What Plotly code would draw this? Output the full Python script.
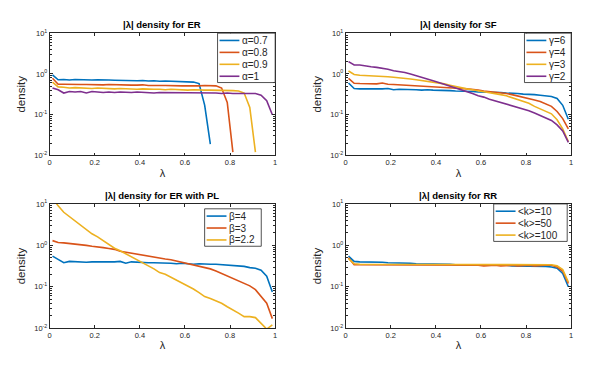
import plotly.graph_objects as go

# ---------------- data ----------------
x_bins = [round(0.0125 + 0.025 * i, 4) for i in range(40)]

er_labels = ["α=0.7", "α=0.8", "α=0.9", "α=1"]
er_a07 = [0.95, 0.72, 0.73, 0.71, 0.73, 0.72, 0.72, 0.71, 0.72, 0.70, 0.71, 0.70, 0.69, 0.70, 0.69,
          0.68, 0.69, 0.67, 0.68, 0.66, 0.67, 0.66, 0.65, 0.65, 0.64, 0.63, 0.58, 0.17, 0.019]
er_a08 = [0.78, 0.56, 0.56, 0.55, 0.56, 0.55, 0.55, 0.54, 0.55, 0.54, 0.55, 0.54, 0.53, 0.54, 0.53,
          0.53, 0.54, 0.52, 0.53, 0.52, 0.52, 0.51, 0.52, 0.51, 0.51, 0.50, 0.51, 0.52, 0.51, 0.51,
          0.45, 0.20, 0.012]
er_a09 = [0.63, 0.48, 0.47, 0.45, 0.46, 0.45, 0.45, 0.44, 0.45, 0.44, 0.44, 0.43, 0.44, 0.43, 0.43,
          0.42, 0.43, 0.42, 0.42, 0.42, 0.41, 0.42, 0.41, 0.41, 0.40, 0.41, 0.40, 0.40, 0.40, 0.40,
          0.39, 0.39, 0.39, 0.38, 0.34, 0.15, 0.012]
er_a10 = [0.45, 0.41, 0.34, 0.37, 0.36, 0.37, 0.34, 0.37, 0.36, 0.35, 0.36, 0.35, 0.36, 0.35, 0.35,
          0.36, 0.35, 0.35, 0.34, 0.35, 0.35, 0.34, 0.35, 0.34, 0.34, 0.35, 0.34, 0.34, 0.34, 0.34,
          0.33, 0.34, 0.33, 0.33, 0.33, 0.33, 0.33, 0.30, 0.22, 0.10]

sf_labels = ["γ=6", "γ=4", "γ=3", "γ=2"]
sf_g6 = [0.60, 0.44, 0.43, 0.43, 0.42, 0.42, 0.43, 0.44, 0.41, 0.42, 0.42, 0.41, 0.41, 0.40, 0.41,
         0.40, 0.40, 0.39, 0.39, 0.38, 0.38, 0.37, 0.37, 0.36, 0.36, 0.35, 0.35, 0.35, 0.34, 0.34,
         0.33, 0.32, 0.32, 0.31, 0.30, 0.29, 0.28, 0.25, 0.17, 0.077]
sf_g4 = [0.78, 0.59, 0.58, 0.57, 0.56, 0.57, 0.60, 0.56, 0.55, 0.54, 0.54, 0.53, 0.52, 0.51, 0.51,
         0.50, 0.49, 0.48, 0.47, 0.45, 0.44, 0.43, 0.42, 0.40, 0.38, 0.37, 0.35, 0.34, 0.33, 0.31,
         0.29, 0.27, 0.25, 0.23, 0.21, 0.18, 0.16, 0.12, 0.08, 0.045]
sf_g3 = [1.18, 0.97, 0.93, 0.92, 0.91, 0.89, 0.87, 0.85, 0.83, 0.81, 0.78, 0.75, 0.72, 0.69, 0.66,
         0.63, 0.60, 0.57, 0.53, 0.49, 0.46, 0.43, 0.41, 0.39, 0.37, 0.35, 0.33, 0.31, 0.29, 0.26,
         0.23, 0.21, 0.19, 0.16, 0.14, 0.12, 0.105, 0.075, 0.045, 0.022]
sf_g2 = [2.00, 1.65, 1.65, 1.55, 1.50, 1.45, 1.40, 1.30, 1.20, 1.15, 1.08, 1.00, 0.90, 0.82, 0.75,
         0.68, 0.62, 0.56, 0.50, 0.44, 0.40, 0.36, 0.33, 0.29, 0.27, 0.24, 0.22, 0.20, 0.18, 0.165,
         0.15, 0.14, 0.125, 0.11, 0.095, 0.085, 0.072, 0.056, 0.04, 0.021]

pl_labels = ["β=4", "β=3", "β=2.2"]
pl_b4 = [0.55, 0.45, 0.38, 0.41, 0.40, 0.40, 0.39, 0.40, 0.40, 0.39, 0.40, 0.40, 0.41, 0.37, 0.40,
         0.39, 0.38, 0.38, 0.38, 0.38, 0.37, 0.37, 0.36, 0.37, 0.36, 0.35, 0.36, 0.35, 0.35, 0.35,
         0.34, 0.34, 0.33, 0.32, 0.31, 0.29, 0.28, 0.25, 0.18, 0.075]
pl_b3 = [1.30, 1.17, 1.15, 1.12, 1.08, 1.05, 1.00, 0.95, 0.93, 0.88, 0.84, 0.80, 0.72, 0.68, 0.64,
         0.60, 0.57, 0.54, 0.51, 0.49, 0.47, 0.45, 0.42, 0.39, 0.37, 0.34, 0.32, 0.29, 0.27, 0.24,
         0.21, 0.18, 0.155, 0.135, 0.12, 0.105, 0.085, 0.06, 0.04, 0.017]
pl_b22 = [14.0, 9.0, 6.3, 5.0, 3.9, 3.0, 2.4, 1.9, 1.6, 1.3, 1.05, 0.85, 0.74, 0.62, 0.52,
          0.44, 0.38, 0.32, 0.27, 0.22, 0.20, 0.17, 0.145, 0.12, 0.10, 0.088, 0.072, 0.058, 0.052, 0.045,
          0.040, 0.033, 0.028, 0.023, 0.019, 0.019, 0.018, 0.013, 0.0095, 0.012]

rr_labels = ["<k>=10", "<k>=50", "<k>=100"]
rr_k10 = [0.55, 0.41, 0.40, 0.40, 0.40, 0.39, 0.39, 0.38, 0.38, 0.37, 0.37, 0.37, 0.36, 0.36, 0.36,
          0.35, 0.35, 0.35, 0.35, 0.34, 0.34, 0.34, 0.34, 0.34, 0.33, 0.33, 0.33, 0.33, 0.33, 0.32,
          0.32, 0.32, 0.32, 0.32, 0.31, 0.31, 0.30, 0.28, 0.21, 0.10]
rr_k50 = [0.50, 0.34, 0.34, 0.34, 0.34, 0.33, 0.34, 0.34, 0.33, 0.34, 0.34, 0.33, 0.34, 0.34, 0.33,
          0.34, 0.33, 0.34, 0.33, 0.33, 0.34, 0.33, 0.33, 0.33, 0.32, 0.33, 0.33, 0.32, 0.33, 0.33,
          0.32, 0.33, 0.33, 0.32, 0.33, 0.33, 0.33, 0.30, 0.24, 0.12]
rr_k100 = [0.48, 0.36, 0.35, 0.35, 0.35, 0.35, 0.35, 0.35, 0.35, 0.35, 0.35, 0.34, 0.35, 0.35, 0.34,
           0.35, 0.34, 0.34, 0.34, 0.34, 0.34, 0.34, 0.34, 0.34, 0.34, 0.34, 0.34, 0.34, 0.34, 0.34,
           0.34, 0.34, 0.34, 0.34, 0.34, 0.34, 0.34, 0.32, 0.26, 0.13]

titles = ["|λ| density for ER", "|λ| density for SF", "|λ| density for ER with PL", "|λ| density for RR"]
x_ticks = [0, 0.2, 0.4, 0.6, 0.8, 1]
x_ticktext = ["0", "0.2", "0.4", "0.6", "0.8", "1"]
y_ticks = [0.01, 0.1, 1, 10]
y_ticktext = ["10<sup>-2</sup>", "10<sup>-1</sup>", "10<sup>0</sup>", "10<sup>1</sup>"]
y_minor = [m * d for d in (0.01, 0.1, 1) for m in range(2, 10)]

colors = ["#0072BD", "#D95319", "#EDB120", "#7E2F8E"]
FONT = "Liberation Sans, Arial, Helvetica, sans-serif"
AXC = "#262626"

W, H = 598, 371
# axes boxes in pixels: (left, right, top, bottom)
boxes = [(48, 275, 28, 154), (346, 573, 28, 154), (48, 275, 204, 332), (346, 573, 204, 332)]
# legend boxes in pixels: (left, right, top)
legend_boxes = [(217, 275, 28), (526, 573, 28), (204, 261, 209), (495, 569, 204)]

panels = [
    (er_labels, [er_a07, er_a08, er_a09, er_a10]),
    (sf_labels, [sf_g6, sf_g4, sf_g3, sf_g2]),
    (pl_labels, [pl_b4, pl_b3, pl_b22]),
    (rr_labels, [rr_k10, rr_k50, rr_k100]),
]


def px(xp):
    return xp / W


def py(yp):
    return 1 - yp / H


fig = go.Figure()
layout = {}
annotations = []
shapes = []

for p, (labels, series) in enumerate(panels):
    xa = "x" if p == 0 else f"x{p+1}"
    ya = "y" if p == 0 else f"y{p+1}"
    for i, (lab, vals) in enumerate(zip(labels, series)):
        fig.add_trace(go.Scatter(
            x=x_bins[:len(vals)], y=vals, mode="lines", name=lab,
            line=dict(color=colors[i], width=1.6),
            xaxis=xa, yaxis=ya, showlegend=False,
        ))
    l, r, t, b = boxes[p]
    xkey = "xaxis" if p == 0 else f"xaxis{p+1}"
    ykey = "yaxis" if p == 0 else f"yaxis{p+1}"
    layout[xkey] = dict(
        domain=[px(l), px(r)], anchor=ya, range=[0, 1], tickvals=x_ticks, ticktext=x_ticktext,
        ticks="inside", ticklen=3, tickcolor=AXC, showline=True, linecolor=AXC, linewidth=0.8,
        mirror="allticks", showgrid=False, zeroline=False,
        tickfont=dict(size=7.5, color=AXC, family=FONT),
        title=dict(text="λ", font=dict(size=11, color=AXC, family=FONT), standoff=2),
    )
    layout[ykey] = dict(
        domain=[py(b), py(t)], anchor=xa, type="log", range=[-2, 1], tickvals=y_ticks, ticktext=y_ticktext,
        ticks="inside", ticklen=3, tickcolor=AXC, showline=True, linecolor=AXC, linewidth=0.8,
        mirror="allticks", showgrid=False, zeroline=False,
        minor=dict(tickmode="array", tickvals=y_minor, ticks="inside", ticklen=2,
                   tickcolor=AXC, showgrid=False),
        tickfont=dict(size=7.5, color=AXC, family=FONT),
        title=dict(text="density", font=dict(size=11.5, color=AXC, family=FONT), standoff=6),
    )
    annotations.append(dict(
        text="<b>" + titles[p] + "</b>", x=px((l + r) / 2), y=py(t - 1),
        xref="paper", yref="paper", xanchor="center", yanchor="bottom", showarrow=False,
        font=dict(size=9.5, color="black", family=FONT),
    ))

    # legend box drawn manually (compact, MATLAB style)
    ll, lr, lt = legend_boxes[p]
    step = 12.3
    n = len(labels)
    lb = lt + 7.5 + (n - 1) * step + 6.5
    shapes.append(dict(type="rect", xref="paper", yref="paper",
                       x0=px(ll), x1=px(lr), y0=py(lb), y1=py(lt),
                       line=dict(color=AXC, width=0.8), fillcolor="white", layer="above"))
    for i, lab in enumerate(labels):
        yc = lt + 7.5 + i * step
        shapes.append(dict(type="line", xref="paper", yref="paper",
                           x0=px(ll + 2), x1=px(ll + 22), y0=py(yc), y1=py(yc),
                           line=dict(color=colors[i], width=1.6), layer="above"))
        annotations.append(dict(
            text=lab.replace("<", "&lt;").replace(">", "&gt;"), x=px(ll + 22.5), y=py(yc),
            xref="paper", yref="paper", xanchor="left", yanchor="middle", showarrow=False,
            font=dict(size=10, color=AXC, family=FONT),
        ))

fig.update_layout(
    width=W, height=H, margin=dict(l=0, r=0, t=0, b=0),
    paper_bgcolor="white", plot_bgcolor="white",
    showlegend=False, annotations=annotations, shapes=shapes, **layout,
)

fig.write_html("out.html", config={"displayModeBar": False},
               post_script="document.body.style.margin='0';document.body.style.overflow='hidden';")
